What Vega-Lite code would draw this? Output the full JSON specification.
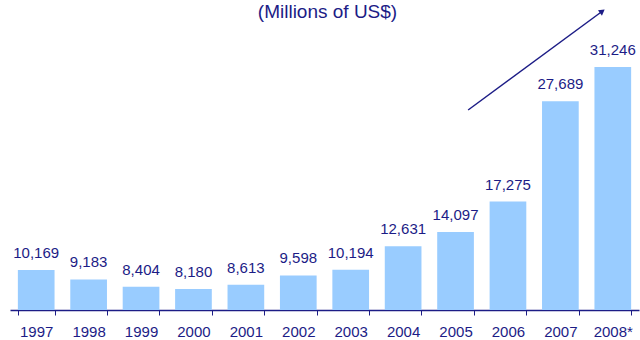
{
  "$schema": "https://vega.github.io/schema/vega-lite/v6.json",
  "width": 629,
  "height": 279,
  "autosize": {"type": "none"},
  "padding": {"left": 10, "top": 31, "right": 1, "bottom": 30},
  "background": "white",
  "title": {"text": "(Millions of US$)", "fontSize": 19, "font": "Liberation Sans", "fontWeight": "normal", "color": "#1c1c86", "anchor": "middle", "offset": -12, "dx": 3},
  "config": {"view": {"stroke": null}, "font": "Liberation Sans"},
  "layer": [
    {
      "data": {"values": [
        {"year": "1997", "value": 10169},
        {"year": "1998", "value": 9183},
        {"year": "1999", "value": 8404},
        {"year": "2000", "value": 8180},
        {"year": "2001", "value": 8613},
        {"year": "2002", "value": 9598},
        {"year": "2003", "value": 10194},
        {"year": "2004", "value": 12631},
        {"year": "2005", "value": 14097},
        {"year": "2006", "value": 17275},
        {"year": "2007", "value": 27689},
        {"year": "2008*", "value": 31246}
      ]},
      "encoding": {
        "x": {"field": "year", "type": "ordinal", "sort": null, "scale": {"paddingInner": 0.3, "paddingOuter": 0.15},
          "axis": {"title": null, "labelAngle": 0, "labelFontSize": 15, "labelColor": "#1c1c86", "domainColor": "#1c1c86", "domainWidth": 1.5, "tickColor": "#1c1c86", "tickBand": "extent", "tickSize": 5, "labelPadding": 9}},
        "y": {"field": "value", "type": "quantitative", "scale": {"domain": [6000, 35000], "nice": false, "zero": false}, "axis": null}
      },
      "layer": [
        {"mark": {"type": "bar", "color": "#99ccff"}, "encoding": {"y2": {"datum": 6000}}},
        {"mark": {"type": "text", "baseline": "bottom", "dy": -9, "fontSize": 15, "color": "#1c1c86"},
         "encoding": {"text": {"field": "value", "type": "quantitative", "format": ",d"}}}
      ]
    },
    {
      "data": {"values": [{"x1": 2005.24, "y1": 26790, "x2": 2007.78, "y2": 36977}]},
      "mark": {"type": "rule", "color": "#1c1c86", "strokeWidth": 1.5},
      "encoding": {
        "x": {"field": "x1", "type": "quantitative", "scale": {"domain": [1996.5, 2008.5], "nice": false, "zero": false}, "axis": null},
        "y": {"field": "y1", "type": "quantitative"},
        "x2": {"field": "x2"},
        "y2": {"field": "y2"}
      }
    },
    {
      "data": {"values": [{"x": 2007.8, "y": 37050}]},
      "mark": {"type": "point", "shape": "triangle-up", "filled": true, "opacity": 1, "color": "#1c1c86", "size": 45, "angle": 53.5},
      "encoding": {
        "x": {"field": "x", "type": "quantitative", "scale": {"domain": [1996.5, 2008.5], "nice": false, "zero": false}, "axis": null},
        "y": {"field": "y", "type": "quantitative"}
      }
    }
  ],
  "resolve": {"scale": {"x": "independent"}}
}
